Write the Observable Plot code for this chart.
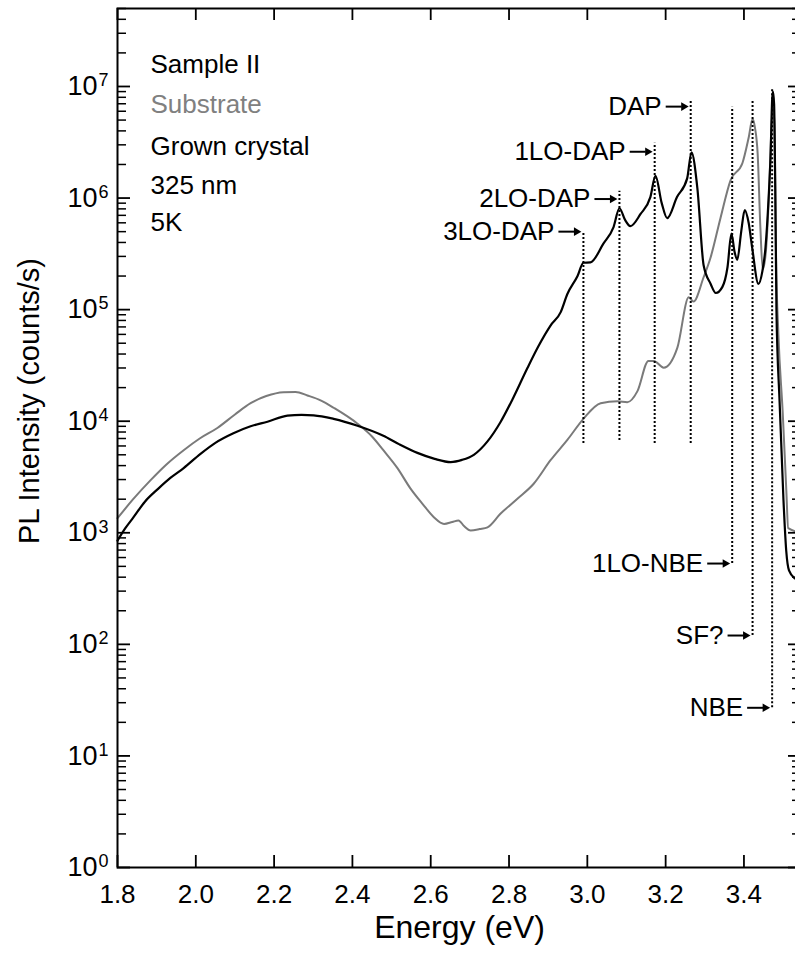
<!DOCTYPE html>
<html>
<head>
<meta charset="utf-8">
<script src="https://cdn.jsdelivr.net/npm/d3@7"></script>
<script src="https://cdn.jsdelivr.net/npm/@observablehq/plot@0.6"></script>
<style>
  html, body { margin: 0; padding: 0; background: #fff; overflow: hidden; }
  #chart svg { display: block; max-width: none !important; height: 960px !important; }
</style>
</head>
<body>
<div id="chart"></div>
<script>
// ---- Data ----
const energyGrown = [1.800,1.820,1.841,1.870,1.905,1.935,1.969,2.012,2.050,2.096,2.140,2.183,2.234,2.270,2.301,2.352,2.413,2.479,2.520,2.566,2.610,2.651,2.680,2.710,2.745,2.778,2.810,2.847,2.875,2.906,2.932,2.949,2.975,2.990,3.008,3.041,3.067,3.082,3.096,3.110,3.136,3.161,3.174,3.190,3.204,3.229,3.255,3.266,3.281,3.297,3.315,3.328,3.345,3.358,3.368,3.376,3.383,3.393,3.402,3.412,3.421,3.437,3.447,3.455,3.463,3.468,3.472,3.474,3.477,3.480,3.483,3.491,3.501,3.508,3.515,3.530,3.547];
const intensityGrown = [850,1100,1380,1900,2500,3100,3800,5100,6400,7800,9000,9900,11200,11400,11300,10500,9100,7400,6200,5200,4600,4300,4500,5000,6600,9800,16000,30000,47000,72000,95000,138000,200000,263000,265000,390000,550000,810000,640000,560000,720000,1020000,1580000,900000,660000,1020000,1500000,2570000,1230000,250000,170000,141000,160000,240000,480000,330000,280000,500000,780000,600000,360000,170000,220000,360000,1000000,2400000,7500000,9000000,7000000,1200000,100000,15000,1950,690,460,390,370];

const energySubstrate = [1.800,1.840,1.884,1.925,1.969,2.010,2.055,2.100,2.140,2.180,2.224,2.255,2.285,2.320,2.352,2.413,2.450,2.479,2.515,2.548,2.580,2.608,2.634,2.655,2.671,2.685,2.702,2.725,2.745,2.778,2.820,2.863,2.906,2.949,2.990,3.034,3.077,3.102,3.128,3.156,3.170,3.195,3.230,3.259,3.271,3.297,3.315,3.340,3.366,3.396,3.412,3.422,3.428,3.435,3.442,3.448,3.456,3.464,3.470,3.474,3.478,3.482,3.488,3.499,3.508,3.513,3.547];
const intensitySubstrate = [1350,2000,2950,4100,5500,7000,8700,11500,14500,16800,18200,18300,17000,15300,13200,9500,7300,5500,3800,2500,1800,1380,1200,1250,1290,1150,1050,1080,1120,1480,2000,2750,4470,6800,10500,14500,15100,14800,18600,34700,34700,30200,45700,129000,118000,195000,295000,660000,1450000,2050000,3470000,5100000,4300000,2500000,540000,230000,330000,1100000,4000000,6500000,4500000,300000,60000,12000,2500,1100,1000];

const peakLabels = ["3LO-DAP","2LO-DAP","1LO-DAP","DAP","1LO-NBE","SF?","NBE"];
const peakEnergy = [2.990, 3.082, 3.172, 3.264, 3.370, 3.422, 3.472];
const peakLineTop = [5.0e5, 1.15e6, 3.1e6, 7.4e6, 6.5e6, 7.4e6, 9.5e6];
const peakLineBottom = [6300, 6700, 6300, 6300, 530, 120, 27];
const peakArrowAt = [5.0e5, 9.8e5, 2.6e6, 6.6e6, 530, 120, 27];

const legendLines = ["Sample II", "Substrate", "Grown crystal", "325 nm", "5K"];

const xTicks = [1.8, 2.0, 2.2, 2.4, 2.6, 2.8, 3.0, 3.2, 3.4];
const yMajor = [1, 1e1, 1e2, 1e3, 1e4, 1e5, 1e6, 1e7];
const yMinor = [];
for (const d of yMajor) for (let m = 2; m <= 9; m++) if (d * m <= 5e7) yMinor.push(d * m);

const xDomain = [1.8, 3.547];
const yDomain = [1, 5e7];

const xTitle = "Energy (eV)";
const yTitle = "PL Intensity (counts/s)";

// ---- Tables built from the arrays ----
const grown = energyGrown.map((e, i) => ({e, v: intensityGrown[i]}));
const substrate = energySubstrate.map((e, i) => ({e, v: intensitySubstrate[i]}));
const peaks = peakLabels.map((label, i) => ({label, e: peakEnergy[i], top: peakLineTop[i], bottom: peakLineBottom[i], at: peakArrowAt[i]}));

// ---- Layout / style constants ----
const W = 805, H = 960, ML = 117, MR = 4, MT = 8, MB = 93;
const FW = W - ML - MR, FH = H - MT - MB;
const PX = (xDomain[1] - xDomain[0]) / FW;                       // eV per pixel
const PY = Math.log10(yDomain[1] / yDomain[0]) / FH;             // decades per pixel
const upY = (v, px) => v * Math.pow(10, px * PY);                // move a value px pixels up
const legendDy = [56, 96, 138, 177, 214];
const legendFill = ["#000", "#808080", "#000", "#000", "#000"];

const chart = Plot.plot({
  width: W,
  height: H,
  marginLeft: ML,
  marginRight: MR,
  marginTop: MT,
  marginBottom: MB,
  style: {fontFamily: "'Liberation Sans', Arial, Helvetica, sans-serif", color: "#000", background: "#fff", maxWidth: "none"},
  x: {domain: xDomain},
  y: {type: "log", domain: yDomain, axis: null},
  marks: [
    // curves
    Plot.line(substrate, {x: "e", y: "v", stroke: "#7a7a7a", strokeWidth: 2, curve: "monotone-x"}),
    Plot.line(grown, {x: "e", y: "v", stroke: "#000", strokeWidth: 2.2, curve: "monotone-x"}),
    // dotted peak markers
    Plot.ruleX(peaks, {x: "e", y1: "bottom", y2: "top", stroke: "#000", strokeWidth: 2, strokeDasharray: "2,2"}),
    // arrows
    Plot.link(peaks, {x1: d => d.e - 25 * PX, x2: d => d.e - 9 * PX, y1: "at", y2: "at", stroke: "#000", strokeWidth: 2}),
    Plot.dot(peaks, {x: "e", y: "at", symbol: "triangle", r: 3.2, rotate: 90, fill: "#000", stroke: null, dx: -7}),
    Plot.text(peaks, {x: "e", y: "at", text: "label", textAnchor: "end", lineAnchor: "middle", dx: -29, fontSize: 26, fill: "#000"}),
    // legend text
    ...legendLines.map((t, i) => Plot.text([t], {text: d => d, frameAnchor: "top-left", textAnchor: "start", lineAnchor: "middle", dx: 33, dy: legendDy[i], fontSize: 26, fill: legendFill[i]})),
    // inward ticks drawn as rules
    Plot.ruleX(xTicks, {x: d => d, y1: yDomain[0], y2: upY(yDomain[0], 12), stroke: "#000", strokeWidth: 1.8}),
    Plot.ruleX(xTicks, {x: d => d, y1: upY(yDomain[1], -12), y2: yDomain[1], stroke: "#000", strokeWidth: 1.8}),
    Plot.ruleY(yMajor, {y: d => d, x1: xDomain[0], x2: xDomain[0] + 13 * PX, stroke: "#000", strokeWidth: 1.8}),
    Plot.ruleY(yMinor, {y: d => d, x1: xDomain[0], x2: xDomain[0] + 9 * PX, stroke: "#000", strokeWidth: 1.5}),
    Plot.ruleY(yMajor, {y: d => d, x1: xDomain[1] - 13 * PX, x2: xDomain[1], stroke: "#000", strokeWidth: 1.8}),
    Plot.ruleY(yMinor, {y: d => d, x1: xDomain[1] - 9 * PX, x2: xDomain[1], stroke: "#000", strokeWidth: 1.5}),
    // x tick labels
    Plot.axisX(xTicks, {anchor: "bottom", tickSize: 0, tickPadding: 17, tickFormat: d3.format(".1f"), label: null, fontSize: 26}),
    // y tick labels 10^n
    Plot.text(yMajor, {y: d => d, text: () => "10", frameAnchor: "left", textAnchor: "end", lineAnchor: "middle", dx: -20, fontSize: 27, fill: "#000"}),
    Plot.text(yMajor, {y: d => d, text: d => String(Math.round(Math.log10(d))), frameAnchor: "left", textAnchor: "start", lineAnchor: "middle", dx: -19, dy: -6, fontSize: 18, fill: "#000"}),
    // titles
    Plot.text([xTitle], {text: d => d, frameAnchor: "bottom", textAnchor: "middle", lineAnchor: "middle", dy: 60, fontSize: 32, fill: "#000"}),
    Plot.text([yTitle], {text: d => d, frameAnchor: "left", textAnchor: "middle", lineAnchor: "middle", rotate: -90, dx: -88, dy: -37, fontSize: 29, fill: "#000"}),
    Plot.frame({stroke: "#000", strokeWidth: 2})
  ]
});

document.getElementById("chart").appendChild(chart);
</script>
</body>
</html>
